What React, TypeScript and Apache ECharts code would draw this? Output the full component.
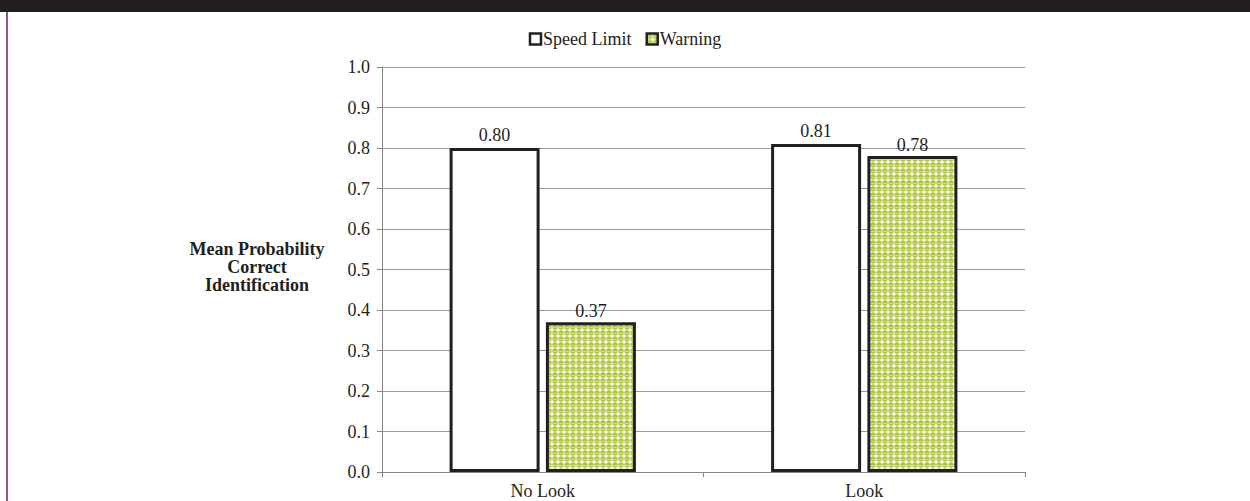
import React, { useEffect, useRef } from "react";
import * as echarts from "echarts";

const categories = ["No Look", "Look"];
const speedLimit = [0.8, 0.81];
const warning = [0.37, 0.78];
const seriesNames = ["Speed Limit", "Warning"];

function makePattern(): HTMLCanvasElement {
  const c = document.createElement("canvas");
  c.width = 6;
  c.height = 6;
  const ctx = c.getContext("2d")!;
  ctx.fillStyle = "#ffffff";
  ctx.fillRect(0, 0, 6, 6);
  ctx.fillStyle = "#adc23a";
  ctx.beginPath();
  ctx.arc(3, 3, 2.7, 0, Math.PI * 2);
  ctx.fill();
  ctx.fillStyle = "#d6e08a";
  ctx.fillRect(1, 3, 4, 1);
  return c;
}

export default function App() {
  const ref = useRef<HTMLDivElement>(null);
  useEffect(() => {
    if (!ref.current) return;
    const chart = echarts.init(ref.current, undefined, { renderer: "svg" });
    const pattern = { image: makePattern(), repeat: "repeat" as const };
    const font = "'Liberation Serif', 'Times New Roman', serif";
    chart.setOption({
      animation: false,
      textStyle: { fontFamily: font },
      graphic: [
        { type: "rect", shape: { x: 0, y: 0, width: 1250, height: 12 }, style: { fill: "#231f20" } },
        { type: "rect", shape: { x: 6, y: 12, width: 2, height: 489 }, style: { fill: "#9b4f96" } },
        {
          type: "text",
          x: 257,
          y: 240,
          style: {
            text: "Mean Probability\nCorrect\nIdentification",
            font: "bold 18px " + font,
            fill: "#231f20",
            align: "center",
            verticalAlign: "top",
            lineHeight: 18,
          },
        },
      ],
      legend: {
        top: 25,
        left: "center",
        itemWidth: 11,
        itemHeight: 11,
        itemGap: 14,
        icon: "rect",
        itemStyle: { borderWidth: 2.5, borderColor: "#231f20" },
        textStyle: { fontSize: 18, color: "#231f20", fontFamily: font, padding: [0, 0, 0, -3] },
        data: seriesNames,
      },
      grid: { left: 382, right: 225, top: 67, bottom: 29 },
      xAxis: {
        type: "category",
        data: categories,
        axisLine: { lineStyle: { color: "#868686", width: 1 } },
        axisTick: { show: true, length: 5, lineStyle: { color: "#868686" } },
        axisLabel: { color: "#231f20", fontSize: 18, fontFamily: font, margin: 10 },
      },
      yAxis: {
        type: "value",
        min: 0,
        max: 1,
        interval: 0.1,
        axisLine: { show: true, lineStyle: { color: "#868686", width: 1 } },
        axisTick: { show: true, length: 5, lineStyle: { color: "#868686" } },
        axisLabel: {
          color: "#231f20",
          fontSize: 18,
          fontFamily: font,
          margin: 12,
          formatter: (v: number) => v.toFixed(1),
        },
        splitLine: { lineStyle: { color: "#9a9a9a", width: 1 } },
      },
      series: [
        {
          name: seriesNames[0],
          type: "bar",
          data: speedLimit,
          barWidth: 90,
          barGap: "7%",
          itemStyle: { color: "#ffffff", borderColor: "#231f20", borderWidth: 3 },
          label: {
            show: true,
            position: "top",
            distance: 4,
            color: "#231f20",
            fontSize: 18,
            fontFamily: font,
            formatter: (p: any) => p.value.toFixed(2),
          },
        },
        {
          name: seriesNames[1],
          type: "bar",
          data: warning,
          barWidth: 90,
          itemStyle: { color: pattern, borderColor: "#231f20", borderWidth: 3 },
          label: {
            show: true,
            position: "top",
            distance: 2,
            color: "#231f20",
            fontSize: 18,
            fontFamily: font,
            formatter: (p: any) => p.value.toFixed(2),
          },
        },
      ],
    });
    return () => chart.dispose();
  }, []);
  return (
    <div style={{ position: "fixed", left: 0, top: 0, width: 1250, height: 501, background: "#fff" }}>
      <div ref={ref} style={{ width: 1250, height: 501 }} />
    </div>
  );
}
